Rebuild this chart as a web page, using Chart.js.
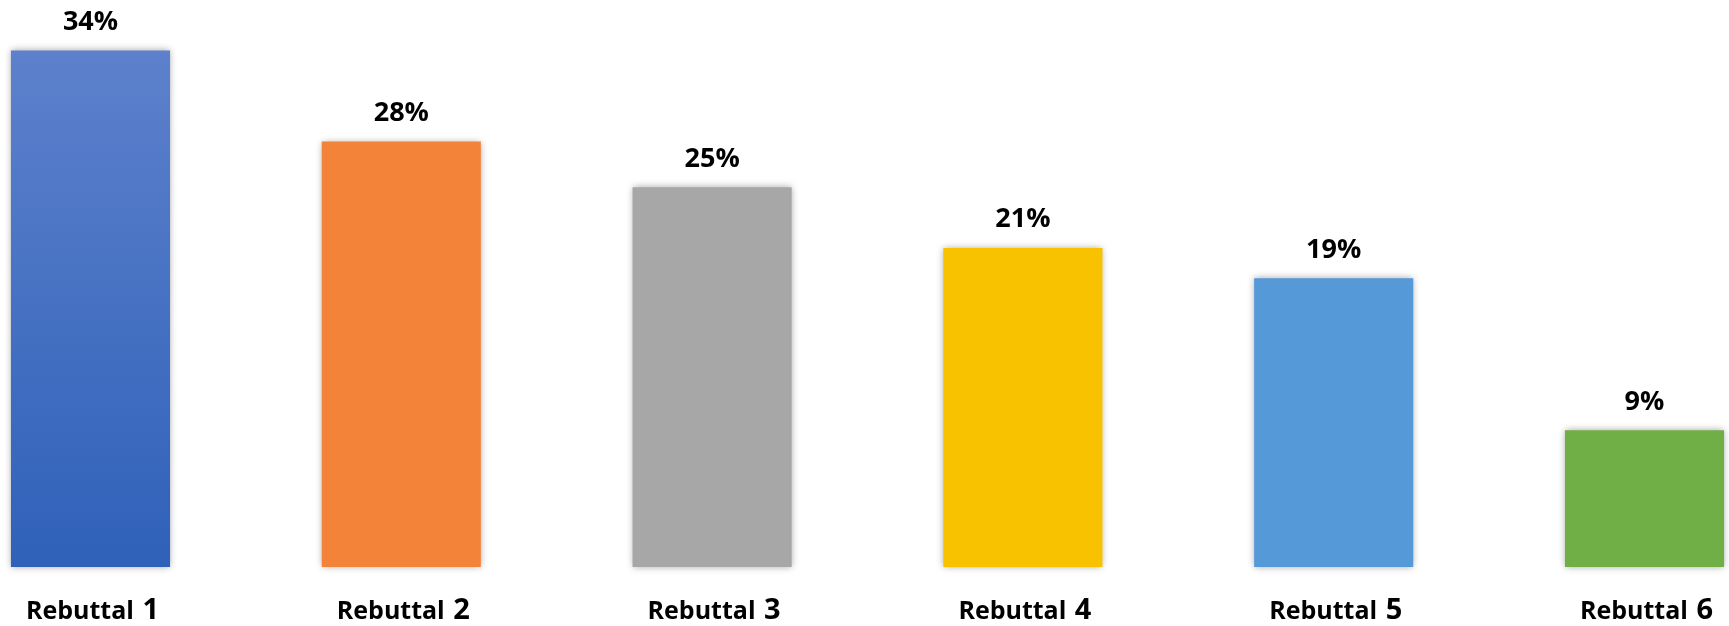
<!DOCTYPE html>
<html>
<head>
<meta charset="utf-8">
<script src="https://cdn.jsdelivr.net/npm/chart.js@4/dist/chart.umd.min.js"></script>
<style>
  html, body { margin: 0; padding: 0; background: #ffffff; }
  #wrap { position: relative; width: 1729px; height: 626px; }
</style>
</head>
<body>
<div id="wrap"><canvas id="chart"></canvas></div>
<script>
// Share of responses per rebuttal (percent)
const categories = ['Rebuttal 1', 'Rebuttal 2', 'Rebuttal 3', 'Rebuttal 4', 'Rebuttal 5', 'Rebuttal 6'];
const shares = [34, 28, 25, 21, 19, 9];
const barColors = ['#4A72C4', '#F4833A', '#A7A7A7', '#F8C200', '#5599D9', '#70AF45'];

// First bar uses a top-to-bottom blue gradient
function firstBarFill(ctx) {
  const chart = ctx.chart;
  const y = chart.scales.y;
  if (!y || !chart.chartArea) return barColors[0];
  const g = chart.ctx.createLinearGradient(0, y.getPixelForValue(shares[0]), 0, y.getPixelForValue(0));
  g.addColorStop(0, '#5D81CC');
  g.addColorStop(1, '#2F61B9');
  return g;
}

// Soft drop shadow around the bars
const barShadow = {
  id: 'barShadow',
  beforeDatasetsDraw(chart) {
    const c = chart.ctx;
    c.save();
    c.shadowColor = 'rgba(0,0,0,0.35)';
    c.shadowBlur = 7;
    c.shadowOffsetX = 0;
    c.shadowOffsetY = 0;
  },
  afterDatasetsDraw(chart) {
    chart.ctx.restore();
  }
};

// Percentage labels above each bar
const valueLabels = {
  id: 'valueLabels',
  afterDatasetsDraw(chart) {
    const c = chart.ctx;
    const meta = chart.getDatasetMeta(0);
    c.save();
    c.fillStyle = '#000000';
    c.font = 'bold 27px "Open Sans"';
    c.textAlign = 'center';
    c.textBaseline = 'alphabetic';
    meta.data.forEach((bar, i) => {
      c.fillText(shares[i] + '%', bar.x, bar.y - 20.5);
    });
    c.restore();
  }
};

// Category labels under the bars: word in bold, number slightly larger
const categoryLabels = {
  id: 'categoryLabels',
  afterDraw(chart) {
    const c = chart.ctx;
    const x = chart.scales.x;
    const base = chart.chartArea.bottom + 51.5;
    const wordFont = 'bold 25px "Open Sans"';
    const numFont = 'bold 29px "Open Sans"';
    c.save();
    c.fillStyle = '#000000';
    c.textBaseline = 'alphabetic';
    c.textAlign = 'left';
    categories.forEach((label, i) => {
      const cut = label.lastIndexOf(' ');
      const word = label.slice(0, cut + 1);
      const num = label.slice(cut + 1);
      c.font = wordFont;
      const w1 = c.measureText(word).width + 2;
      c.font = numFont;
      const w2 = c.measureText(num).width;
      const cx = x.getPixelForValue(i) + 2;
      const start = cx - (w1 + w2) / 2;
      c.font = wordFont;
      c.fillText(word, start, base);
      c.font = numFont;
      c.fillText(num, start + w1, base);
    });
    c.restore();
  }
};

new Chart(document.getElementById('chart'), {
  type: 'bar',
  data: {
    labels: categories,
    datasets: [{
      data: shares,
      backgroundColor: (ctx) => ctx.dataIndex === 0 ? firstBarFill(ctx) : barColors[ctx.dataIndex],
      borderWidth: 0,
      categoryPercentage: 1,
      barPercentage: 0.512,
      clip: false
    }]
  },
  options: {
    responsive: true,
    maintainAspectRatio: false,
    animation: false,
    layout: { padding: { left: 90.5, right: 84.5, top: 20, bottom: 59 } },
    plugins: {
      legend: { display: false },
      tooltip: { enabled: false }
    },
    scales: {
      x: {
        display: false,
        offset: false,
        grid: { display: false }
      },
      y: {
        display: false,
        min: 0,
        max: 36,
        grid: { display: false }
      }
    }
  },
  plugins: [barShadow, valueLabels, categoryLabels]
});
</script>
</body>
</html>
